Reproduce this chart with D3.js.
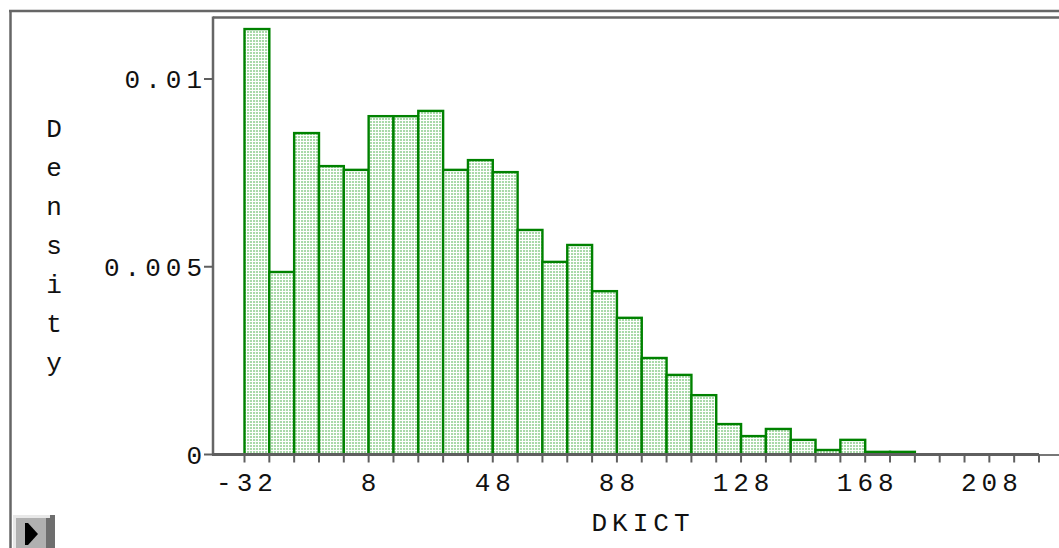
<!DOCTYPE html>
<html><head><meta charset="utf-8">
<script src="https://cdn.jsdelivr.net/npm/d3@7"></script>
<style>html,body{margin:0;padding:0;background:#fff;overflow:hidden}</style>
</head><body>
<script>
// Data
const binStarts = [-32,-24,-16,-8,0,8,16,24,32,40,48,56,64,72,80,88,96,104,112,120,128,136,144,152,160,168,176];
const densities = [0.01133,0.00486,0.00856,0.00768,0.00758,0.00901,0.00901,0.00915,0.00758,0.00784,0.00752,0.00598,0.00513,0.00558,0.00435,0.00364,0.00257,0.00212,0.00158,0.00081,0.00049,0.00068,0.00039,0.00012,0.00039,0.00007,0.00007];
const binWidth = 8;
const xTickLabels = [-32,8,48,88,128,168,208];
const xMinorTicks = d3.range(-32, 225, 8);
const yTickValues = [0, 0.005, 0.01];
const yTickLabels = ["0", "0.005", "0.01"];
const xTitle = "DKICT";
const yTitle = "Density";

const W = 1059, H = 548;
const svg = d3.select("body").append("svg").attr("width", W).attr("height", H);
const x = d3.scaleLinear().domain([-32, 224]).range([244.5, 1039]);
const y = d3.scaleLinear().domain([0, 0.01]).range([454.5, 79]);

const defs = svg.append("defs");
const pat = defs.append("pattern").attr("id","stip").attr("patternUnits","userSpaceOnUse")
  .attr("width",6).attr("height",3);
pat.append("rect").attr("width",6).attr("height",3).attr("fill","#a9d9a9");
pat.append("rect").attr("x",0).attr("y",0).attr("width",1).attr("height",3).attr("fill","#ffffff");
pat.append("rect").attr("x",3).attr("y",0).attr("width",1).attr("height",3).attr("fill","#f2faf2");
pat.append("rect").attr("x",0).attr("y",0).attr("width",6).attr("height",1).attr("fill","#ffffff");

const font = "'Liberation Mono', 'DejaVu Sans Mono', monospace";
const gray = "#5f5f5f";

// outer frame
svg.append("line").attr("x1",10.5).attr("y1",11).attr("x2",10.5).attr("y2",H).attr("stroke","#666").attr("stroke-width",2.5);
svg.append("line").attr("x1",9).attr("y1",11).attr("x2",W).attr("y2",11).attr("stroke","#666").attr("stroke-width",2.5);
// inner frame
svg.append("line").attr("x1",213).attr("y1",17.5).attr("x2",W).attr("y2",17.5).attr("stroke","#666").attr("stroke-width",2.5);
svg.append("line").attr("x1",213).attr("y1",16.5).attr("x2",213).attr("y2",455).attr("stroke","#666").attr("stroke-width",2.5);
svg.append("line").attr("x1",1039).attr("y1",455).attr("x2",W).attr("y2",455).attr("stroke","#777").attr("stroke-width",2);

// bars
svg.append("g").selectAll("rect").data(binStarts).join("rect")
  .attr("x", (d) => x(d))
  .attr("y", (d,i) => y(densities[i]))
  .attr("width", (d) => x(d + binWidth) - x(d))
  .attr("height", (d,i) => y(0) - y(densities[i]))
  .attr("fill", "url(#stip)")
  .attr("stroke", "#008200")
  .attr("stroke-width", 2.4);

// x axis
const xg = svg.append("g").attr("transform", "translate(0,454.5)");
xg.append("line").attr("x1",212).attr("x2",1039).attr("stroke",gray).attr("stroke-width",3);
xg.selectAll("line.t").data(xMinorTicks).join("line").attr("class","t")
  .attr("x1", d => x(d)).attr("x2", d => x(d)).attr("y1",0).attr("y2",8)
  .attr("stroke",gray).attr("stroke-width",2);
xg.selectAll("text").data(xTickLabels).join("text")
  .attr("x", d => x(d) + 2.5).attr("y", 36)
  .attr("text-anchor","middle").attr("font-family",font).attr("font-size",26)
  .attr("letter-spacing",5).attr("fill","#111").text(d => d);

// y axis
const yg = svg.append("g");
yg.selectAll("line").data(yTickValues).join("line")
  .attr("x1",204).attr("x2",213).attr("y1", d => y(d)).attr("y2", d => y(d))
  .attr("stroke",gray).attr("stroke-width",2);
yg.selectAll("text").data(yTickValues).join("text")
  .attr("x", 207).attr("y", d => y(d) + 9)
  .attr("text-anchor","end").attr("font-family",font).attr("font-size",26)
  .attr("letter-spacing",5).attr("fill","#111").text((d,i) => yTickLabels[i]);

// titles
svg.append("text").attr("x", 643).attr("y", 531).attr("text-anchor","middle")
  .attr("font-family",font).attr("font-size",26).attr("letter-spacing",5).attr("fill","#111").text(xTitle);
const yt = svg.append("text").attr("font-family",font).attr("font-size",26).attr("fill","#111").attr("text-anchor","middle");
yTitle.split("").forEach((c,i) => {
  yt.append("tspan").attr("x",54).attr("y",137 + i*39).text(c);
});

// button bottom-left
const b = svg.append("g");
b.append("rect").attr("x",13).attr("y",515).attr("width",42).attr("height",33).attr("fill","#6e6e6e");
b.append("rect").attr("x",13).attr("y",515).attr("width",37).attr("height",3).attr("fill","#e8e8e8");
b.append("rect").attr("x",13).attr("y",515).attr("width",3).attr("height",33).attr("fill","#e8e8e8");
b.append("rect").attr("x",16).attr("y",518).attr("width",30).attr("height",30).attr("fill","#b0b0b0");
b.append("rect").attr("x",25).attr("y",523).attr("width",3).attr("height",22).attr("fill","#000");
b.append("path").attr("d","M28,523 L38,534 L28,545 Z").attr("fill","#000");
</script>
</body></html>
